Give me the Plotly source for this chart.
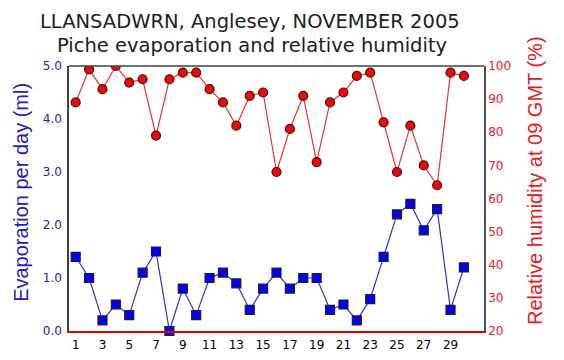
import plotly.graph_objects as go

days = list(range(1, 31))
evaporation = [1.4, 1.0, 0.2, 0.5, 0.3, 1.1, 1.5, 0.0, 0.8, 0.3,
               1.0, 1.1, 0.9, 0.4, 0.8, 1.1, 0.8, 1.0, 1.0, 0.4,
               0.5, 0.2, 0.6, 1.4, 2.2, 2.4, 1.9, 2.3, 0.4, 1.2]
humidity = [89, 99, 93, 100, 95, 96, 79, 96, 98, 98,
            93, 89, 82, 91, 92, 68, 81, 91, 71, 89,
            92, 97, 98, 83, 68, 82, 70, 64, 98, 97]
x_ticks = list(range(1, 30, 2))
left_ticks = [0, 1, 2, 3, 4, 5]
right_ticks = list(range(20, 101, 10))

fig = go.Figure()
fig.add_trace(go.Scatter(
    x=days, y=humidity, yaxis="y2", mode="lines+markers",
    line=dict(color="#e8303a", width=1.2),
    marker=dict(symbol="circle", size=9, color="#ff0000",
                line=dict(color="#202020", width=1.2)),
    showlegend=False))
fig.add_trace(go.Scatter(
    x=days, y=evaporation, mode="lines+markers",
    line=dict(color="#3030d0", width=1.2),
    marker=dict(symbol="square", size=9, color="#0000ff",
                line=dict(color="#202020", width=1.2)),
    showlegend=False, cliponaxis=False))

title_font = dict(family="DejaVu Sans", size=19.5, color="#202020")
fig.update_layout(
    width=556, height=352,
    margin=dict(l=61, r=80, t=58, b=29),
    paper_bgcolor="white", plot_bgcolor="white",
    xaxis=dict(range=[0.5, 31.5], tickvals=x_ticks, ticktext=[str(v) for v in x_ticks],
               showgrid=False, zeroline=False, showline=True, linecolor="#e00000",
               linewidth=2, ticks="", ticklabelstandoff=2, automargin=False,
               tickfont=dict(family="DejaVu Sans", size=12, color="#000000")),
    yaxis=dict(range=[0, 5], tickvals=left_ticks, ticktext=[f"{v:.1f}" for v in left_ticks],
               showgrid=False, zeroline=False, showline=True, linecolor="#404040", linewidth=1.5,
               ticks="", ticklabelstandoff=3, automargin=False,
               tickfont=dict(family="DejaVu Sans", size=12, color="#2020c0")),
    yaxis2=dict(range=[20, 100], tickvals=right_ticks, overlaying="y", side="right",
                showgrid=False, zeroline=False, showline=True, linecolor="#505070", linewidth=1.5,
                ticks="", ticklabelstandoff=0, automargin=False,
                tickfont=dict(family="DejaVu Sans", size=12, color="#e02020")),
    shapes=[dict(type="line", xref="paper", yref="paper", x0=0, x1=1, y0=1, y1=1,
                 line=dict(color="#404040", width=1.5))],
    annotations=[
        dict(text="LLANSADWRN, Anglesey, NOVEMBER 2005", xref="paper", yref="paper",
             x=0.436, y=1.168, xanchor="center", yanchor="middle", showarrow=False, font=title_font),
        dict(text="Piche evaporation and relative humidity", xref="paper", yref="paper",
             x=0.441, y=1.077, xanchor="center", yanchor="middle", showarrow=False, font=title_font),
        dict(text="Evaporation per day (ml)", xref="paper", yref="paper", textangle=-90,
             x=-0.1157, y=0.525, xanchor="center", yanchor="middle", showarrow=False,
             font=dict(family="Liberation Sans", size=20, color="#2020c0")),
        dict(text="Relative humidity at 09 GMT (%)", xref="paper", yref="paper", textangle=-90,
             x=1.123, y=0.566, xanchor="center", yanchor="middle", showarrow=False,
             font=dict(family="Liberation Sans", size=20, color="#e02020")),
    ],
)

fig.write_html("out.html")
